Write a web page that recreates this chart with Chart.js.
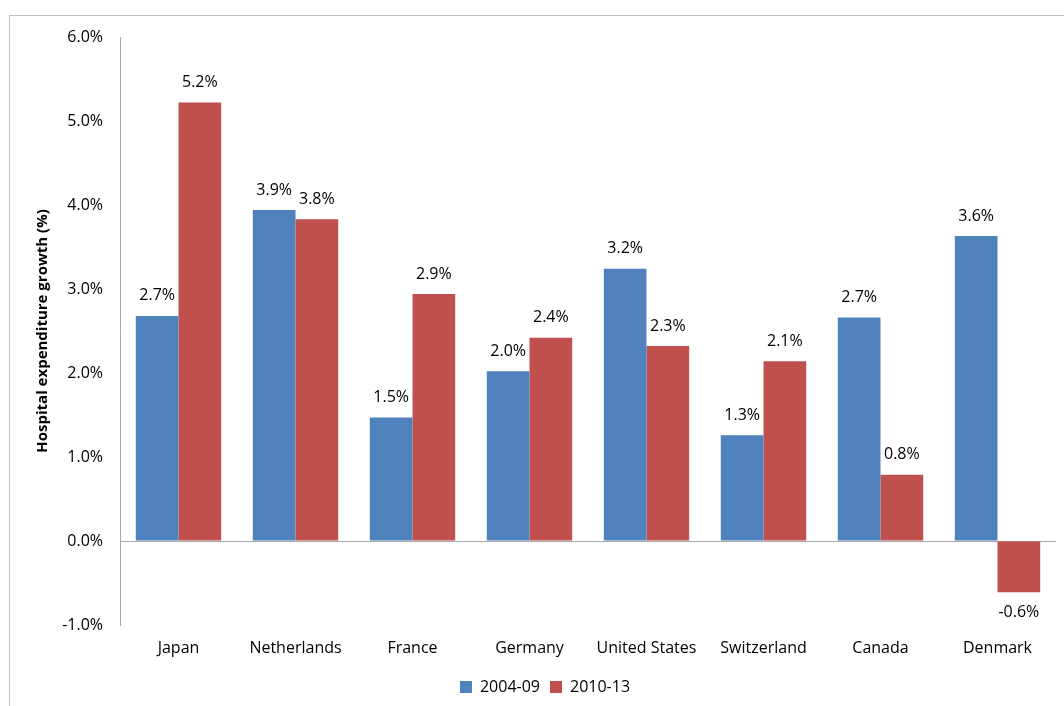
<!DOCTYPE html>
<html>
<head>
<meta charset="utf-8">
<script src="https://cdn.jsdelivr.net/npm/chart.js@4.4.0/dist/chart.umd.min.js"></script>
<style>
html,body{margin:0;padding:0;background:#fff;}
#wrap{width:1064px;height:706px;position:relative;}
</style>
</head>
<body>
<div id="wrap"><canvas id="c" width="1064" height="706"></canvas></div>
<script>
const categories = ["Japan","Netherlands","France","Germany","United States","Switzerland","Canada","Denmark"];
const series1Label = "2004-09";
const series2Label = "2010-13";
const series1 = [2.68, 3.94, 1.47, 2.02, 3.24, 1.26, 2.66, 3.63];
const series2 = [5.22, 3.83, 2.94, 2.42, 2.32, 2.14, 0.79, -0.61];
const yTicks = [-1, 0, 1, 2, 3, 4, 5, 6];

const FONT = "'Open Sans', Lato, sans-serif";
const FS = 16;

const frame = {
  id: 'frame',
  beforeDraw(chart) {
    const ctx = chart.ctx;
    ctx.save();
    ctx.fillStyle = '#fff';
    ctx.fillRect(0, 0, chart.width, chart.height);
    ctx.strokeStyle = '#c0c0c0';
    ctx.lineWidth = 1;
    ctx.strokeRect(9.5, 15.5, 1200, 900);
    ctx.restore();
  }
};

const valueLabels = {
  id: 'valueLabels',
  afterDatasetsDraw(chart) {
    const ctx = chart.ctx;
    ctx.save();
    ctx.font = FS + "px " + FONT;
    ctx.fillStyle = '#000';
    ctx.textAlign = 'center';
    ctx.textBaseline = 'middle';
    chart.data.datasets.forEach((ds, di) => {
      const meta = chart.getDatasetMeta(di);
      meta.data.forEach((bar, i) => {
        const v = ds.data[i];
        const txt = v.toFixed(1) + '%';
        const y = v >= 0 ? bar.y - 20 : bar.y + 20;
        ctx.fillText(txt, bar.x, y);
      });
    });
    ctx.restore();
  }
};

new Chart(document.getElementById('c'), {
  type: 'bar',
  data: {
    labels: categories,
    datasets: [
      { label: series1Label, data: series1, backgroundColor: '#4F81BD', borderWidth: 0 },
      { label: series2Label, data: series2, backgroundColor: '#C0504D', borderWidth: 0 }
    ]
  },
  options: {
    responsive: false,
    animation: false,
    devicePixelRatio: 1,
    categoryPercentage: 0.73,
    barPercentage: 1.0,
    layout: { padding: { left: 34, right: 8, top: 37, bottom: 1 } },
    plugins: {
      legend: {
        position: 'bottom',
        labels: {
          font: { family: FONT, size: FS },
          color: '#000',
          boxWidth: 12,
          boxHeight: 12,
          padding: 10
        }
      },
      tooltip: { enabled: false }
    },
    scales: {
      x: {
        grid: { display: false, drawTicks: false },
        border: { display: false },
        ticks: { font: { family: FONT, size: FS }, color: '#000', padding: 14, maxRotation: 0 },
        afterFit(scale) { scale.height = 44; }
      },
      y: {
        min: -1,
        max: 6,
        afterBuildTicks(scale) { scale.ticks = yTicks.map(v => ({ value: v })); },
        grid: {
          drawTicks: false,
          color: (c) => (c.tick && c.tick.value === 0) ? '#a6a6a6' : 'rgba(0,0,0,0)',
          lineWidth: 1
        },
        border: { display: true, color: '#a6a6a6' },
        ticks: {
          font: { family: FONT, size: FS },
          color: '#000',
          padding: 17,
          callback: (v) => Number(v).toFixed(1) + '%'
        },
        title: {
          display: true,
          text: 'Hospital expenditure growth (%)',
          font: { family: FONT, size: 15, weight: 'bold' },
          color: '#000',
          padding: 0
        },
        afterFit(scale) { scale.width = 86; }
      }
    }
  },
  plugins: [frame, valueLabels]
});
</script>
</body>
</html>
